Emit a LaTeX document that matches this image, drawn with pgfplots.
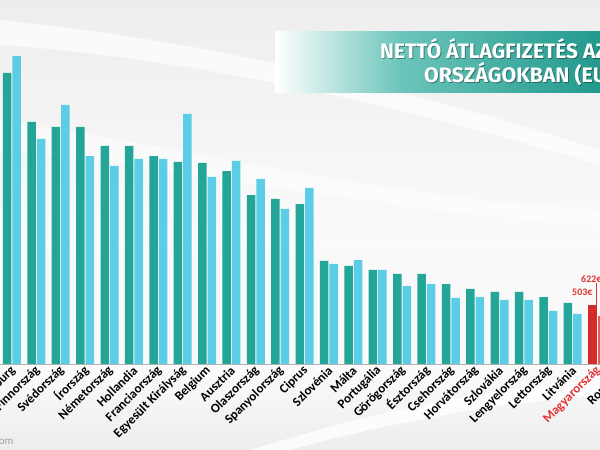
\documentclass[border=0pt]{standalone}
\usepackage{pgfplots}
\pgfplotsset{compat=1.18}
\usepackage{graphicx}
\usepackage{fontspec}
\setmainfont{Carlito}
\newfontfamily\titlefont{Fira Sans}
\definecolor{tealdark}{HTML}{23A597}
\definecolor{cyanlight}{HTML}{5CCDE6}
\definecolor{reddark}{HTML}{D42B2B}
\definecolor{redlight}{HTML}{E85A5A}
\definecolor{bannerA}{HTML}{6CC5BB}
\definecolor{bannerB}{HTML}{22998D}
\definecolor{labelred}{HTML}{E03434}
\begin{document}
\begin{tikzpicture}[x=1bp,y=1bp]
\useasboundingbox (0,0) rectangle (600,450);
\clip (0,0) rectangle (600,450);
% background
\fill[gray!5] (0,0) rectangle (600,450);
\shade[top color=gray!14, bottom color=gray!3] (0,200) rectangle (600,450);
\shade[top color=gray!3, bottom color=gray!14] (0,0) rectangle (600,86);
\fill[white, opacity=0.7] (0,430) .. controls (150,415) and (350,380) .. (600,300) -- (600,285) .. controls (350,360) and (150,395) .. (0,405) -- cycle;
\fill[white, opacity=0.5] (0,330) .. controls (200,300) and (400,250) .. (600,240) -- (600,225) .. controls (400,235) and (200,280) .. (0,300) -- cycle;
\fill[white, opacity=0.8] (250,0) .. controls (380,40) and (480,60) .. (600,70) -- (600,55) .. controls (480,45) and (380,25) .. (290,0) -- cycle;
% banner
\shade[left color=white, right color=bannerA] (275,357) rectangle (400,418);
\shade[left color=bannerA, right color=bannerB] (400,357) rectangle (600,418);
\node[anchor=base west, inner sep=0, text=black, opacity=0.35] at (381,390) {\titlefont\bfseries\fontsize{21}{24}\selectfont\scalebox{1.0}[1]{NETTÓ ÁTLAGFIZETÉS AZ EU}};
\node[anchor=base west, inner sep=0, text=white] at (380,391) {\titlefont\bfseries\fontsize{21}{24}\selectfont\scalebox{1.0}[1]{NETTÓ ÁTLAGFIZETÉS AZ EU}};
\node[anchor=base west, inner sep=0, text=black, opacity=0.35] at (425,366) {\titlefont\bfseries\fontsize{21}{24}\selectfont\scalebox{1.02}[1]{ORSZÁGOKBAN (EURÓ)}};
\node[anchor=base west, inner sep=0, text=white] at (424,367) {\titlefont\bfseries\fontsize{21}{24}\selectfont\scalebox{1.02}[1]{ORSZÁGOKBAN (EURÓ)}};
% baseline
\draw[gray!60, line width=0.8bp] (0,86) -- (600,86);
\begin{axis}[
  at={(-0.19bp,86bp)}, anchor=south west,
  width=633.75bp, height=330bp, scale only axis,
  xmin=-0.5, xmax=25.5, ymin=0, ymax=3478,
  axis line style={draw=none}, major tick length=0pt,
  ytick=\empty,
  xtick={0,...,25},
  xticklabels={Luxemburg,Finnország,Svédország,Írország,Németország,Hollandia,Franciaország,Egyesült Királyság,Belgium,Ausztria,Olaszország,Spanyolország,Ciprus,Szlovénia,Málta,Portugália,Görögország,Észtország,Csehország,Horvátország,Szlovákia,Lengyelország,Lettország,Litvánia,\textcolor{labelred}{Magyarország},Románia},
  xticklabel style={rotate=45, anchor=east, inner sep=1pt, font=\bfseries\fontsize{13}{14}\selectfont, yshift=-4bp, xshift=-1bp},
  clip=false,
]
\addplot[ybar, bar width=8.5bp, bar shift=-4.75bp, fill=tealdark, draw=none] coordinates {
(0,3067) (1,2551) (2,2498) (3,2498) (4,2298) (5,2298) (6,2192) (7,2129) (8,2119) (9,2034) (10,1781) (11,1739) (12,1686) (13,1086) (14,1033) (15,991) (16,949) (17,949) (18,843) (19,791) (20,759) (21,759) (22,706) (23,643)};
\addplot[ybar, bar width=8.5bp, bar shift=4.75bp, fill=cyanlight, draw=none] coordinates {
(0,3246) (1,2372) (2,2730) (3,2192) (4,2087) (5,2161) (6,2161) (7,2635) (8,1971) (9,2140) (10,1950) (11,1634) (12,1855) (13,1054) (14,1096) (15,991) (16,822) (17,843) (18,696) (19,706) (20,675) (21,675) (22,559) (23,527)};
\addplot[ybar, bar width=8.5bp, bar shift=-4.75bp, fill=reddark, draw=none] coordinates {(24,622)};
\addplot[ybar, bar width=8.5bp, bar shift=4.75bp, fill=redlight, draw=none] coordinates {(24,503)};
\end{axis}
% value labels
\draw[labelred, line width=0.6bp] (596,167) -- (596,145);
\node[anchor=base west, inner sep=0, text=labelred] at (581,167) {\bfseries\fontsize{10}{11}\selectfont 622€};
\node[anchor=base west, inner sep=0, text=labelred] at (572,154) {\bfseries\fontsize{10}{11}\selectfont 503€};
% watermark
\node[anchor=base east, inner sep=0, text=gray!75] at (13.5,5) {\fontsize{11}{12}\selectfont .com};
\end{tikzpicture}
\end{document}
